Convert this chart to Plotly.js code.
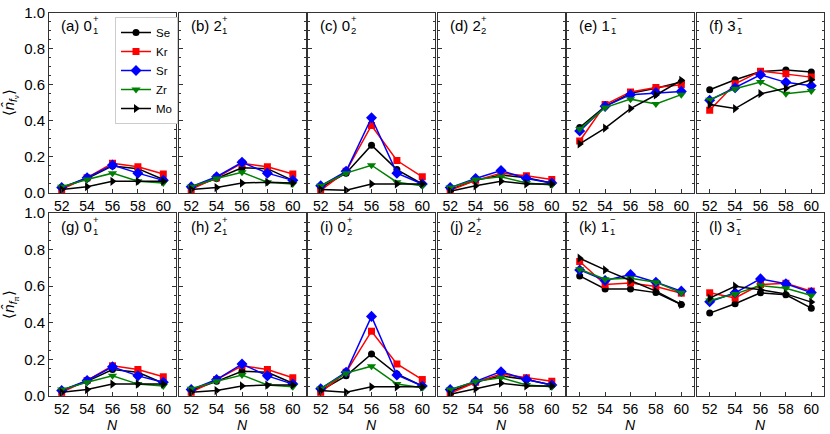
<!DOCTYPE html>
<html>
<head>
<meta charset="utf-8">
<script src="https://cdn.plot.ly/plotly-3.0.1.min.js"></script>
<style>
  body { margin: 0; background: #fff; }
  #chart { width: 830px; height: 434px; }
</style>
</head>
<body>
<div id="chart"></div>
<script>
var N = [52, 54, 56, 58, 60];
var nuclei = ['Se', 'Kr', 'Sr', 'Zr', 'Mo'];

// rows: Se, Kr, Sr, Zr, Mo
var panelA = [[0.03, 0.08, 0.15, 0.135, 0.075], [0.02, 0.085, 0.165, 0.145, 0.105], [0.03, 0.085, 0.155, 0.11, 0.07], [0.035, 0.075, 0.11, 0.065, 0.055], [0.02, 0.035, 0.065, 0.065, 0.065]];
var panelB = [[0.03, 0.08, 0.14, 0.135, 0.07], [0.02, 0.085, 0.165, 0.145, 0.105], [0.035, 0.09, 0.17, 0.11, 0.07], [0.035, 0.08, 0.115, 0.06, 0.05], [0.02, 0.03, 0.055, 0.06, 0.055]];
var panelC = [[0.03, 0.11, 0.265, 0.13, 0.05], [0.015, 0.12, 0.374, 0.18, 0.09], [0.04, 0.12, 0.417, 0.11, 0.05], [0.04, 0.11, 0.154, 0.06, 0.04], [0.02, 0.015, 0.05, 0.05, 0.05]];
var panelD = [[0.02, 0.07, 0.10, 0.085, 0.055], [0.015, 0.07, 0.11, 0.095, 0.075], [0.03, 0.08, 0.125, 0.08, 0.055], [0.03, 0.075, 0.09, 0.055, 0.045], [0.01, 0.04, 0.065, 0.05, 0.05]];
var panelE = [[0.363, 0.48, 0.553, 0.58, 0.615], [0.288, 0.49, 0.56, 0.585, 0.6], [0.343, 0.48, 0.545, 0.556, 0.563], [0.354, 0.473, 0.52, 0.493, 0.545], [0.272, 0.36, 0.468, 0.543, 0.624]];
var panelF = [[0.572, 0.627, 0.673, 0.682, 0.67], [0.459, 0.605, 0.675, 0.66, 0.642], [0.514, 0.583, 0.655, 0.613, 0.594], [0.517, 0.578, 0.615, 0.55, 0.565], [0.49, 0.468, 0.55, 0.58, 0.627]];
var panelG = [[0.03, 0.08, 0.145, 0.13, 0.07], [0.02, 0.085, 0.165, 0.145, 0.105], [0.03, 0.085, 0.16, 0.11, 0.075], [0.035, 0.075, 0.11, 0.065, 0.055], [0.02, 0.035, 0.065, 0.065, 0.065]];
var panelH = [[0.03, 0.08, 0.135, 0.13, 0.07], [0.02, 0.09, 0.165, 0.145, 0.10], [0.035, 0.09, 0.175, 0.11, 0.065], [0.04, 0.08, 0.115, 0.06, 0.05], [0.02, 0.03, 0.055, 0.06, 0.06]];
var panelI = [[0.03, 0.11, 0.23, 0.12, 0.055], [0.02, 0.13, 0.354, 0.175, 0.09], [0.04, 0.13, 0.435, 0.115, 0.055], [0.04, 0.125, 0.163, 0.065, 0.045], [0.03, 0.02, 0.05, 0.05, 0.05]];
var panelJ = [[0.025, 0.075, 0.11, 0.09, 0.06], [0.015, 0.075, 0.12, 0.10, 0.08], [0.035, 0.08, 0.133, 0.09, 0.06], [0.035, 0.08, 0.10, 0.06, 0.05], [0.01, 0.04, 0.07, 0.055, 0.055]];
var panelK = [[0.656, 0.585, 0.585, 0.565, 0.5], [0.735, 0.609, 0.618, 0.598, 0.562], [0.689, 0.631, 0.664, 0.622, 0.573], [0.693, 0.638, 0.644, 0.622, 0.564], [0.753, 0.689, 0.631, 0.573, 0.5]];
var panelL = [[0.453, 0.504, 0.564, 0.553, 0.48], [0.564, 0.536, 0.609, 0.616, 0.573], [0.515, 0.564, 0.64, 0.613, 0.565], [0.522, 0.558, 0.604, 0.589, 0.549], [0.535, 0.6, 0.58, 0.558, 0.513]];

var panels = [panelA, panelB, panelC, panelD, panelE, panelF, panelG, panelH, panelI, panelJ, panelK, panelL];

// panel labels: letter, state J, subscript, parity
var panelLetters = ['a', 'b', 'c', 'd', 'e', 'f', 'g', 'h', 'i', 'j', 'k', 'l'];
var stateJ = ['0', '2', '0', '2', '1', '3', '0', '2', '0', '2', '1', '3'];
var stateSub = ['1', '1', '2', '2', '1', '1', '1', '1', '2', '2', '1', '1'];
var stateSup = ['+', '+', '+', '+', '\u2212', '\u2212', '+', '+', '+', '+', '\u2212', '\u2212'];

var colors = ['black', '#ff0000', '#0000ff', '#008000', 'black'];
var symbols = ['circle', 'square', 'diamond', 'triangle-down', 'triangle-right'];
var sizes = [7, 7, 8.5, 8, 8];

var W = 830, H = 434;
var colLeft = [49, 178.5, 308, 437.5, 567, 697];
var colWidth = 127;
var rowTop = [12.5, 213];
var rowBottom = [193, 396];

// rough Arial-like advance widths (em) used to place the stacked sub/sup
var charW = {'(': 0.333, ')': 0.333, ' ': 0.278, 'a': 0.556, 'b': 0.556, 'c': 0.5, 'd': 0.556, 'e': 0.556,
	'f': 0.278, 'g': 0.556, 'h': 0.556, 'i': 0.222, 'j': 0.222, 'k': 0.5, 'l': 0.222};

function textWidth(str, size){
	var w = 0;
	for(var i=0; i<str.length; i++){
		w += (charW[str[i]] !== undefined ? charW[str[i]] : 0.556) * size;
	}
	return w;
}

function plotPanels(){

	var data = [];
	var layout = {
		width: W,
		height: H,
		margin: {l: 0, r: 0, t: 0, b: 0},
		paper_bgcolor: 'white',
		plot_bgcolor: 'white',
		font: {family: 'Liberation Sans, Arial, sans-serif', size: 14, color: 'black'},
		showlegend: true,
		legend: {
			x: 115 / W, y: 1 - 17 / H,
			xanchor: 'left', yanchor: 'top',
			bgcolor: 'white',
			bordercolor: '#cccccc',
			borderwidth: 1,
			font: {size: 11.5},
			itemwidth: 30,
			tracegroupgap: 0
		},
		annotations: []
	};

	for(var p=0; p<panels.length; p++){
		var row = Math.floor(p / 6);
		var col = p % 6;
		var ax = (p + 1);
		var xname = 'xaxis' + (ax === 1 ? '' : ax);
		var yname = 'yaxis' + (ax === 1 ? '' : ax);
		var xref = 'x' + (ax === 1 ? '' : ax);
		var yref = 'y' + (ax === 1 ? '' : ax);

		for(var s=0; s<nuclei.length; s++){
			data.push({
				x: N,
				y: panels[p][s],
				xaxis: xref,
				yaxis: yref,
				type: 'scatter',
				mode: 'lines+markers',
				name: nuclei[s],
				legendgroup: nuclei[s],
				showlegend: p === 0,
				line: {color: colors[s], width: 1.5},
				marker: {color: colors[s], symbol: symbols[s], size: sizes[s]}
			});
		}

		layout[xname] = {
			domain: [colLeft[col] / W, (colLeft[col] + colWidth) / W],
			anchor: yref,
			range: [51, 61],
			tickvals: N,
			ticks: 'inside',
			ticklen: 4,
			tickcolor: '#333',
			showline: true,
			linecolor: '#333',
			linewidth: 1,
			mirror: true,
			showgrid: false,
			zeroline: false,
			fixedrange: true,
			tickfont: {size: 14}
		};

		layout[yname] = {
			domain: [1 - rowBottom[row] / H, 1 - rowTop[row] / H],
			anchor: xref,
			range: [0, 1],
			dtick: 0.2,
			tickformat: '.1f',
			ticks: 'inside',
			ticklen: 4,
			tickcolor: '#333',
			minor: {ticks: 'inside', dtick: 0.05, ticklen: 2, tickcolor: '#333'},
			showline: true,
			linecolor: '#333',
			linewidth: 1,
			mirror: 'allticks',
			showgrid: false,
			zeroline: false,
			fixedrange: true,
			showticklabels: col === 0,
			tickfont: {size: 15}
		};

		if(col === 0){
			layout[yname].title = {
				text: row === 0 ? '\u27e8<i>n\u0302</i><sub><i>f</i><sub>\u03bd</sub></sub>\u27e9' : '\u27e8<i>n\u0302</i><sub><i>f</i><sub>\u03c0</sub></sub>\u27e9',
				font: {size: 15},
				standoff: 6
			};
		}

		if(row === 1){
			layout.annotations.push({
				xref: xref + ' domain',
				yref: 'paper',
				x: 0.5, y: 1 - 425 / H,
				xanchor: 'center', yanchor: 'middle',
				borderpad: 0,
				showarrow: false,
				text: '<i>N</i>',
				font: {size: 14}
			});
		}

		// panel label, with parity and index stacked in a second small text
		var mainText = '(' + panelLetters[p] + ') ' + stateJ[p];
		var mainW = textWidth(mainText, 15);
		layout.annotations.push({
			xref: xref + ' domain',
			yref: yref + ' domain',
			x: 0, y: 1,
			xshift: 11, yshift: -13,
			xanchor: 'left', yanchor: 'middle',
			borderpad: 0,
			showarrow: false,
			text: mainText,
			font: {size: 15}
		});
		layout.annotations.push({
			xref: xref + ' domain',
			yref: yref + ' domain',
			x: 0, y: 1,
			xshift: 12 + mainW, yshift: -12.5,
			xanchor: 'left', yanchor: 'middle',
			align: 'left',
			borderpad: 0,
			showarrow: false,
			text: stateSup[p] + '<br>' + stateSub[p],
			font: {size: 9.5}
		});
	}

	var config = {staticPlot: true};

	Plotly.newPlot('chart', data, layout, config);
}

plotPanels();
</script>
</body>
</html>
